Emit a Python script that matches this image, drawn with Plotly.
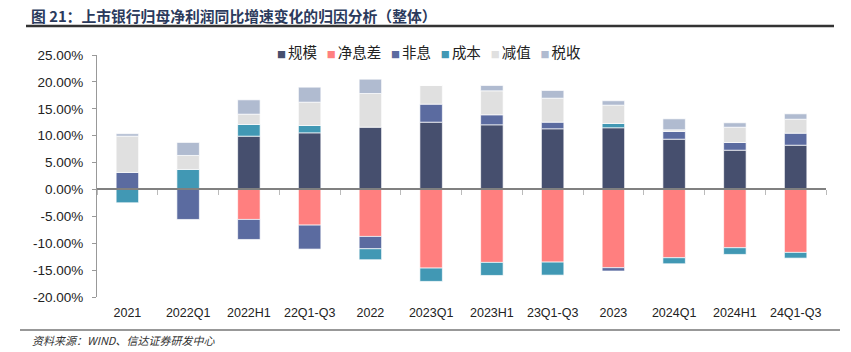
import plotly.graph_objects as go

# ---------------- data ----------------
categories = ["2021", "2022Q1", "2022H1", "22Q1-Q3", "2022", "2023Q1",
              "2023H1", "23Q1-Q3", "2023", "2024Q1", "2024H1", "24Q1-Q3"]

scale_vals  = [0.00, 0.00, 9.91, 10.53, 11.58, 12.51, 12.02, 11.28, 11.47, 9.35, 7.30, 8.23]
nim_vals    = [0.00, 0.00, -5.58, -6.63, -8.74, -14.62, -13.57, -13.51, -14.55, -12.70, -10.84, -11.71]
nonint_vals = [3.16, -5.58, -3.72, -4.46, -2.29, 3.35, 1.86, 1.23, -0.62, 1.43, 1.43, 2.23]
cost_vals   = [-2.48, 3.72, 2.17, 1.36, -2.04, -2.48, -2.42, -2.42, 0.80, -1.12, -1.24, -1.06]
impair_vals = [6.75, 2.60, 1.92, 4.34, 6.26, 3.47, 4.46, 4.46, 3.40, 0.31, 2.84, 2.60]
tax_vals    = [0.45, 2.42, 2.66, 2.79, 2.66, 0.00, 0.99, 1.43, 0.82, 2.04, 0.82, 1.00]

series_names = ["规模", "净息差", "非息", "成本", "减值", "税收"]
series_vals = [scale_vals, nim_vals, nonint_vals, cost_vals, impair_vals, tax_vals]
series_colors = ["#464F6E", "#FF7F7F", "#5B6BA0", "#4198B4", "#E0E0E0", "#B0BBD0"]

y_tickvals = [-20, -15, -10, -5, 0, 5, 10, 15, 20, 25]
y_ticktext = [f"{v:.2f}%" for v in y_tickvals]

title_text = "图 21：上市银行归母净利润同比增速变化的归因分析（整体）"
source_text = "资料来源：WIND、信达证券研发中心"

# ---------------- layout helpers ----------------
W, H = 851, 352
ML, MR, MT, MB = 97, 25, 55, 55
PW, PH = W - ML - MR, H - MT - MB


def px_x(px):
    return (px - ML) / PW


def px_y(py):
    return (H - MB - py) / PH


CJK = "Noto Sans CJK SC"
LAT = "Liberation Sans, Arial, sans-serif"

fig = go.Figure()
for name, vals, col in zip(series_names, series_vals, series_colors):
    fig.add_trace(go.Bar(
        x=categories, y=vals, name=name,
        marker=dict(color=col, line=dict(color="rgba(255,255,255,0.85)", width=0.8)),
        width=0.37, showlegend=False,
    ))

# helper trace for the zero-line category axis with boundary ticks
fig.add_trace(go.Scatter(x=categories, y=[None] * len(categories), xaxis="x2",
                         mode="markers", showlegend=False, hoverinfo="skip"))

ymin, ymax = -20, 25
fig.update_layout(
    width=W, height=H,
    margin=dict(l=ML, r=MR, t=MT, b=MB, pad=0),
    paper_bgcolor="white", plot_bgcolor="white",
    barmode="relative",
    bargap=0.63,
    showlegend=False,
    xaxis=dict(type="category", categoryorder="array", categoryarray=categories,
               range=[-0.5, len(categories) - 0.5],
               showline=False, ticks="", showgrid=False, zeroline=False,
               tickfont=dict(family=LAT, size=12.5, color="#222"),
               ticklabelstandoff=6),
    xaxis2=dict(type="category", categoryorder="array", categoryarray=categories,
                range=[-0.5, len(categories) - 0.5],
                overlaying="x", anchor="free", position=(0 - ymin) / (ymax - ymin),
                showline=True, linecolor="#808080", linewidth=1.5,
                ticks="outside", tickson="boundaries", ticklen=5, tickcolor="#bbbbbb",
                tickwidth=1, showticklabels=False, showgrid=False, zeroline=False),
    yaxis=dict(range=[ymin, ymax], tickvals=y_tickvals, ticktext=y_ticktext,
               showline=True, linecolor="#999999", linewidth=1,
               ticks="outside", ticklen=4, tickcolor="#999999",
               showgrid=False, zeroline=False,
               tickfont=dict(family=LAT, size=13.5, color="#222"),
               ticklabelstandoff=6),
)

# title
fig.add_annotation(text=f"<b>{title_text}</b>", xref="paper", yref="paper",
                   x=px_x(29), y=px_y(15), xanchor="left", yanchor="middle",
                   showarrow=False, font=dict(family=CJK, size=14.8, color="#2B3A5C"))
# title underline
fig.add_shape(type="line", xref="paper", yref="paper",
              x0=px_x(26), x1=px_x(834), y0=px_y(26), y1=px_y(26),
              line=dict(color="#333333", width=2.5))
# bottom rule
fig.add_shape(type="line", xref="paper", yref="paper",
              x0=px_x(20), x1=px_x(840), y0=px_y(330), y1=px_y(330),
              line=dict(color="#333333", width=1.2))
# source
fig.add_annotation(text=f"<i>{source_text}</i>", xref="paper", yref="paper",
                   x=px_x(30), y=px_y(340), xanchor="left", yanchor="middle",
                   showarrow=False, font=dict(family=CJK, size=11, color="#333"))

# legend built from series names / colours
gap = "\u00a0" * 3
parts = []
for name, col in zip(series_names, series_colors):
    parts.append(f"<span style='color:{col};font-size:9px'>■\u00a0</span>{name}")
legend_text = gap.join(parts)
fig.add_annotation(text=legend_text, xref="paper", yref="paper",
                   x=px_x(275), y=px_y(51), xanchor="left", yanchor="middle",
                   showarrow=False, font=dict(family=CJK, size=14.5, color="#222"))

fig.write_html("out.html")
